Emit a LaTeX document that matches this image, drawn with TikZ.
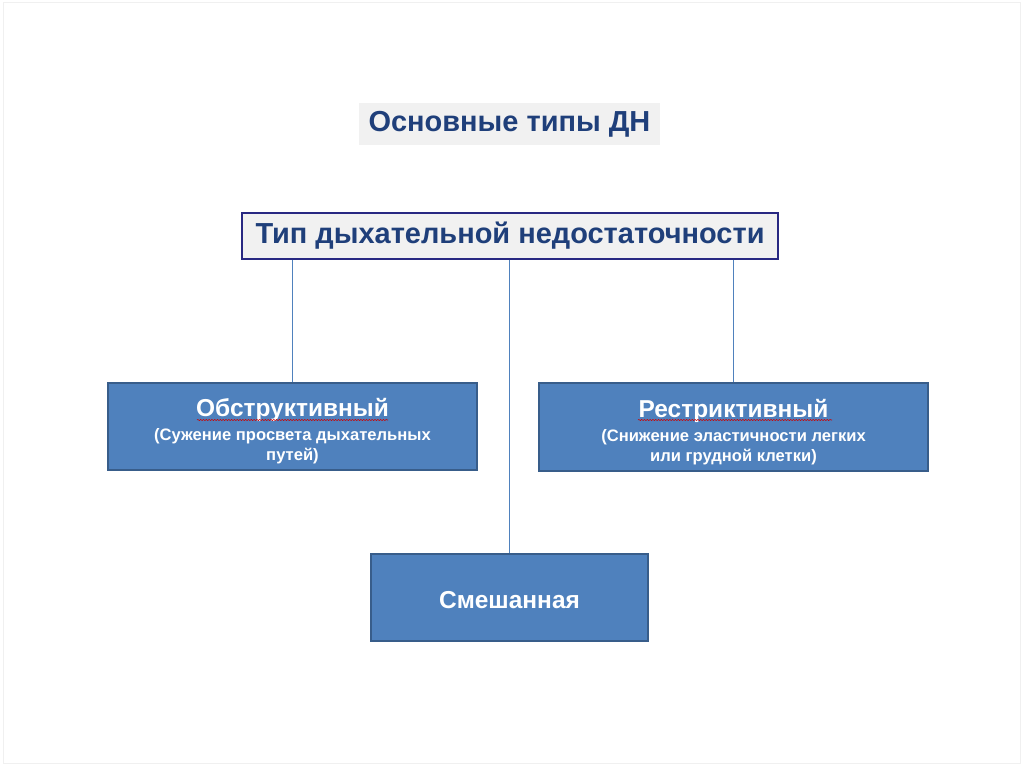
\documentclass[tikz,border=0pt]{standalone}
\usepackage{fontspec}
\setmainfont{Liberation Sans}
\usepackage{xcolor}
\usetikzlibrary{positioning, calc, decorations.pathmorphing}
\definecolor{navytext}{RGB}{31,63,122}
\definecolor{navyline}{RGB}{40,40,130}
\definecolor{boxblue}{RGB}{79,129,189}
\definecolor{boxedge}{RGB}{56,93,138}
\definecolor{paleg}{RGB}{241,241,241}
\tikzset{
    titlebox/.style={fill=paleg, minimum width=7.525cm, minimum height=1.05cm,
        font=\fontsize{20.6}{24}\selectfont\bfseries, text=navytext},
    headbox/.style={draw=navyline, line width=1.2pt, fill=paleg, minimum width=13.4cm,
        minimum height=1.15cm, font=\fontsize{20.6}{24}\selectfont\bfseries, text=navytext},
    typebox/.style={draw=boxedge, line width=0.8pt, fill=boxblue, text=white,
        align=center, font=\fontsize{11.8}{14.2}\selectfont\bfseries, inner sep=0pt},
    link/.style={draw=boxblue, line width=0.8pt},
    spell/.style={draw=red!80!black, line width=0.4pt,
        decorate, decoration={snake, amplitude=0.4pt, segment length=2pt}}
}
\newcommand{\headtxt}[1]{{\fontsize{17.4}{20}\selectfont\rule{0pt}{20pt}#1}}

\begin{document}
\begin{tikzpicture}
    % page frame
    \useasboundingbox (0,0) rectangle (25.6,-19.175);
    \draw[gray!12, line width=0.6pt] (0.08,-0.05) rectangle (25.5,-19.08);
    % title and main box
    \node[titlebox] (title) at (12.7375,-3.1) {Основные типы ДН};
    \node[headbox] (main) at (12.75,-5.9) {Тип дыхательной недостаточности};
    % the three types
    \node[typebox, minimum width=9.225cm, minimum height=2.175cm] (obstr) at (7.3125,-10.6625)
        {\headtxt{Обструктивный}\\[2.8pt](Сужение просвета дыхательных\\путей)};
    \node[typebox, minimum width=9.725cm, minimum height=2.2cm] (restr) at (18.3375,-10.675)
        {\headtxt{Рестриктивный}\\[2.8pt](Снижение эластичности легких\\или грудной клетки)};
    \node[typebox, minimum width=6.925cm, minimum height=2.175cm] (mixed) at (12.7375,-14.9375)
        {{\fontsize{17.4}{20}\selectfont\rule{0pt}{16pt}Смешанная}};
    % connectors
    \draw[link] (main.south -| obstr.north) -- (obstr.north);
    \draw[link] (main.south -| mixed.north) -- (mixed.north);
    \draw[link] (main.south -| restr.north) -- (restr.north);
    % spell-check marks
    \draw[spell] (4.925,-10.5) -- (9.7,-10.5);
    \draw[spell] (15.95,-10.5) -- (20.8,-10.5);
\end{tikzpicture}
\end{document}
